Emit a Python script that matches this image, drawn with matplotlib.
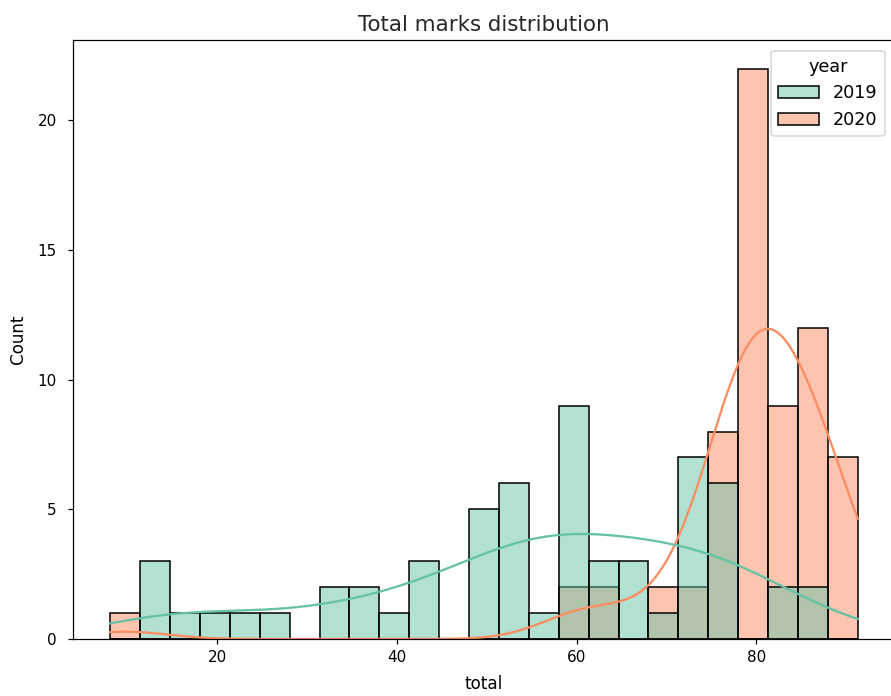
import numpy as np
import pandas as pd
import seaborn as sns
import matplotlib.pyplot as plt

# marks (bin centres) and how many students got them, per year
total = [9.8, 13.1, 16.4, 19.7, 23.1, 26.4, 29.7, 33.1, 36.4, 39.7, 43.0, 46.4,
         49.7, 53.0, 56.4, 59.7, 63.0, 66.4, 69.7, 73.0, 76.3, 79.7, 83.0, 86.3, 89.7]
count_2019 = [0, 3, 1, 1, 1, 1, 0, 2, 2, 1, 3, 0, 5, 6, 1, 9, 3, 3, 1, 7, 6, 0, 2, 2, 0]
count_2020 = [1, 0, 0, 0, 0, 0, 0, 0, 0, 0, 0, 0, 0, 0, 0, 2, 2, 0, 2, 2, 8, 22, 9, 12, 7]
years = ["2019", "2020"]

# one row per student
frames = []
for yr, counts in zip(years, [count_2019, count_2020]):
    frames.append(pd.DataFrame({"total": np.repeat(total, counts), "year": yr}))
df = pd.concat(frames, ignore_index=True)

fig = plt.figure(figsize=(891 / 110, 696 / 110), dpi=110)
ax = fig.add_axes([73 / 891, 57 / 696, 822 / 891, 599 / 696])

sns.histplot(data=df, x="total", hue="year", hue_order=years,
             bins=25, binrange=(8.1, 91.3), kde=True, palette="Set2",
             edgecolor="black", linewidth=1.0,
             kde_kws=dict(cut=3, clip=(8.1, 91.3)), ax=ax)

ax.spines["right"].set_visible(False)
ax.set_title("Total marks distribution", fontsize=14, color="#262626")
ax.set_xlabel("total", fontsize=11, labelpad=7)
ax.set_ylabel("Count", fontsize=11, labelpad=7)
ax.tick_params(labelsize=10)
ax.tick_params(axis="y", pad=7)
sns.move_legend(ax, "upper right", bbox_to_anchor=(0.998, 0.997),
                fontsize=11.5, title_fontsize=11.5, handlelength=2.3)

fig.savefig("out.png", dpi=110)
